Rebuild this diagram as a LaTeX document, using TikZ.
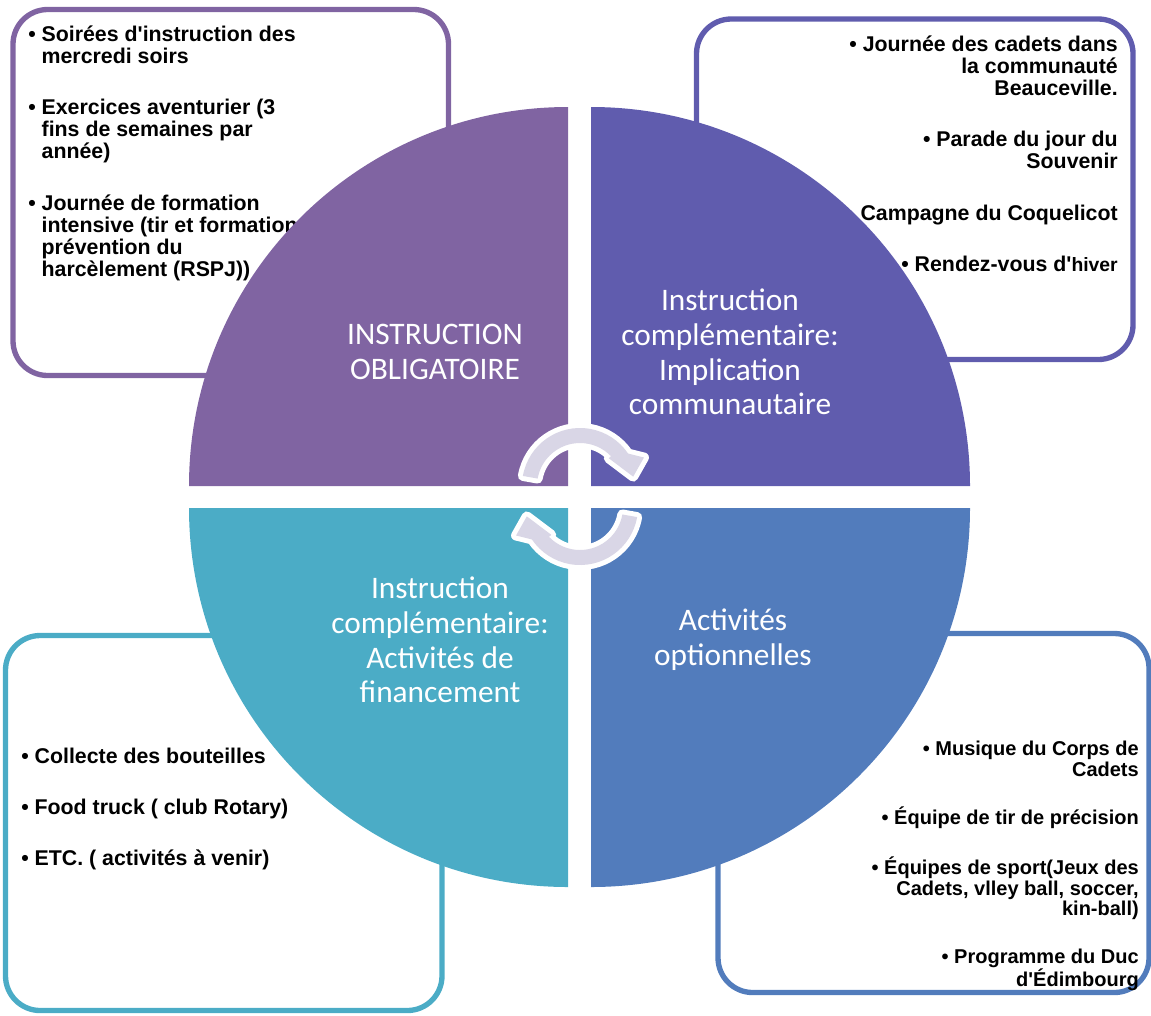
\documentclass[tikz,border=0pt]{standalone}
\usepackage{fontspec}
\newfontfamily\arial{Liberation Sans}
\newfontfamily\calib{Carlito}
\definecolor{cpurple}{RGB}{128,100,162}
\definecolor{cindigo}{RGB}{96,92,174}
\definecolor{cblue}{RGB}{82,124,188}
\definecolor{cteal}{RGB}{75,172,198}
\definecolor{clav}{RGB}{217,214,230}
\newcommand{\bulletgap}{\phantom{•\ }}
\begin{document}
\begin{tikzpicture}[
			x = 0.75pt, y = -0.75pt,
			box/.style = {line width=4pt, rounded corners=26pt},
			items/.style = {inner sep=0pt, font=\arial\bfseries\fontsize{16}{16.5}\selectfont},
			quad/.style = {text=white, align=center, inner sep=0pt, font=\calib\fontsize{23.5}{26}\selectfont},
			cyclearrow/.style = {fill=clav, line join=round, preaction={draw=white, line width=7.5pt, line join=round}}
			]

			\useasboundingbox (0,0) rectangle (1151,1015);

			\draw[box, draw=cpurple] (13,9.5) rectangle (448.5,375.5);
			\draw[box, draw=cindigo] (696.5,19) rectangle (1133,359.5);
			\draw[box, draw=cblue] (718,633.5) rectangle (1149,992.5);
			\draw[box, draw=cteal] (5.5,635.5) rectangle (442,1010.5);

			\node[items, anchor=north west, align=left] (oblig) at (28,25.5) {• Soirées d'instruction des\\\bulletgap mercredi soirs\\[22pt]• Exercices aventurier (3\\\bulletgap fins de semaines par\\\bulletgap année)\\[22pt]• Journée de formation\\\bulletgap intensive (tir et formation\\\bulletgap prévention du\\\bulletgap harcèlement (RSPJ))};
			\node[items, anchor=north east, align=right] (commu) at (1118,35.5) {• Journée des cadets dans\\la communauté\\Beauceville.\\[22pt]• Parade du jour du\\Souvenir\\[22pt]Campagne du Coquelicot\\[22pt]• Rendez-vous d'{\fontsize{14.5}{16.5}\selectfont hiver}};
			\node[items, font=\arial\bfseries\fontsize{15}{15.4}\selectfont, anchor=north east, align=right] (option) at (1139,741) {• Musique du Corps de\\Cadets\\[20.5pt]• Équipe de tir de précision\\[20.5pt]• Équipes de sport(Jeux des\\Cadets, vlley ball, soccer,\\kin-ball)\\[20.5pt]• Programme du Duc\\d'Édimbourg};
			\node[items, anchor=north west, align=left] (financ) at (21,747.5) {• Collecte des bouteilles\\[22pt]• Food truck ( club Rotary)\\[22pt]• ETC. ( activités à venir)};

			\fill[cpurple] (568,486) -- (189,486) arc[start angle=180, end angle=270, radius=379] -- cycle;
			\fill[cindigo] (591,486) -- (591,107) arc[start angle=270, end angle=360, radius=379] -- cycle;
			\fill[cblue] (591,508) -- (970,508) arc[start angle=0, end angle=90, radius=379] -- cycle;
			\fill[cteal] (568,508) -- (568,887) arc[start angle=90, end angle=180, radius=379] -- cycle;

			\node[quad] (qoblig) at (435,352) {INSTRUCTION\\OBLIGATOIRE};
			\node[quad] (qcommu) at (730,352) {Instruction\\complémentaire:\\Implication\\communautaire};
			\node[quad] (qoption) at (733,640) {Activités\\optionnelles};
			\node[quad] (qfinanc) at (440,640) {Instruction\\complémentaire:\\Activités de\\financement};

			\path[cyclearrow, shift={(580,486)}] (190:58) arc[start angle=190, end angle=326, radius=58] -- (336:70) -- (350:54) -- (316:40) -- (316:43) arc[start angle=316, end angle=190, radius=43] -- cycle;
			\path[cyclearrow, shift={(580,507)}] (10:58) arc[start angle=10, end angle=146, radius=58] -- (156:70) -- (170:54) -- (136:40) -- (136:43) arc[start angle=136, end angle=10, radius=43] -- cycle;

		\end{tikzpicture}
\end{document}
